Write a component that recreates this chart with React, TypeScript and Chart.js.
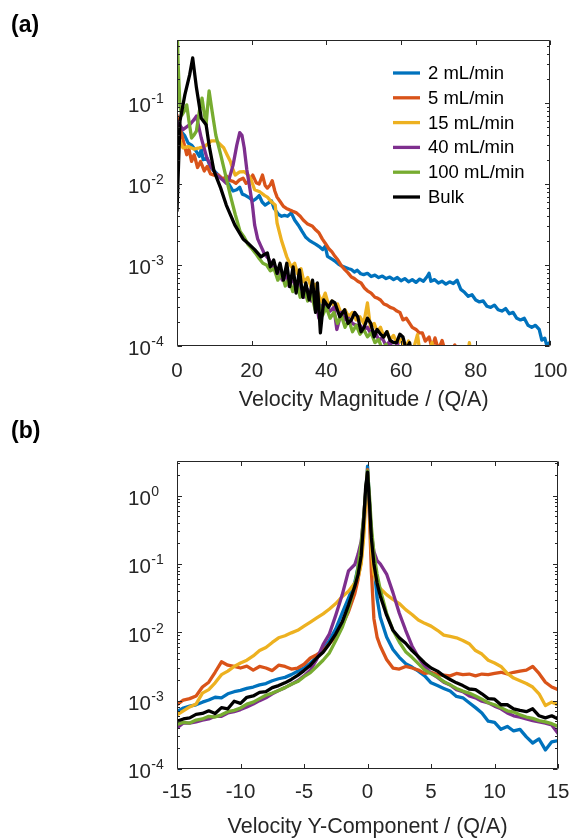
import React, { useEffect, useRef } from 'react';
import { Chart, registerables } from 'chart.js';

Chart.register(...registerables);

const FONT = "'Liberation Sans', Arial, Helvetica, sans-serif";
const AXIS_COLOR = '#262626';

// ---------- shared series info ----------
const seriesLabels = ['2 mL/min', '5 mL/min', '15 mL/min', '40 mL/min', '100 mL/min', 'Bulk'];
const seriesColors = ['#0072BD', '#D95319', '#EDB120', '#7E2F8E', '#77AC30', '#000000'];

// ---------- panel (a): velocity magnitude ----------
const aXTicks = [0, 20, 40, 60, 80, 100];
const aYTicks = [1e-4, 1e-3, 1e-2, 1e-1];
const aYTickExps = ['-4', '-3', '-2', '-1'];
const aXTitle = 'Velocity Magnitude / (Q/A)';

const aBlueX = [0, 1, 2, 3, 4, 5, 6, 6.5, 7, 8, 9, 10, 11, 12, 13, 14, 15, 16, 16.8, 17.5, 18.4, 19.3, 20.3, 21.2, 22, 22.8, 23.6, 24.4, 25.3, 26, 27.2, 28, 28.8, 29.6, 30.6, 31.5, 32.5, 33.5, 34.5, 35.5, 36.3, 37.2, 38, 39, 39.7, 40.3, 41.5, 42.5, 43.3, 44, 45, 46, 46.7, 47.5, 48.3, 49.2, 50, 51, 52, 53, 54, 55, 56, 57, 58, 59, 60, 61, 62, 63, 64, 65, 66, 67, 67.5, 68, 69, 70, 71, 72, 73, 74, 75, 76, 77, 78, 79, 80, 81, 82, 83, 84, 85, 86, 87, 88, 89, 90, 91, 92, 93, 94, 95, 96, 97, 97.7, 98.5, 99, 100];
const aBlueY = [0.054, 0.045, 0.04, 0.032, 0.03, 0.026, 0.022, 0.027, 0.02, 0.021, 0.016, 0.0145, 0.013, 0.0117, 0.011, 0.0098, 0.0082, 0.0085, 0.0091, 0.0075, 0.0072, 0.0068, 0.0062, 0.0066, 0.0072, 0.006, 0.0055, 0.0058, 0.0062, 0.005, 0.0042, 0.004, 0.0041, 0.004, 0.0044, 0.0036, 0.0031, 0.0026, 0.0022, 0.002, 0.0019, 0.0018, 0.0017, 0.00155, 0.0017, 0.00128, 0.00118, 0.0011, 0.00102, 0.00098, 0.00094, 0.0009, 0.00088, 0.00082, 0.00086, 0.00078, 0.00076, 0.00079, 0.00072, 0.00075, 0.0007, 0.00073, 0.00068, 0.00071, 0.00066, 0.0007, 0.00064, 0.00068, 0.00062, 0.00066, 0.00061, 0.00067, 0.00063, 0.00072, 0.00079, 0.00063, 0.00066, 0.0006, 0.00063, 0.00058, 0.00062, 0.00059, 0.00065, 0.0005, 0.00046, 0.00041, 0.00043, 0.00037, 0.00035, 0.00036, 0.00031, 0.0003, 0.00032, 0.00028, 0.00027, 0.00029, 0.00025, 0.00026, 0.00022, 0.00021, 0.00022, 0.00018, 0.00017, 0.00018, 0.00016, 0.000118, 0.000125, 0.000103, 0.000112];

const aOrangeX = [0, 0.6, 1.3, 2, 2.6, 3.2, 3.9, 4.6, 5.5, 6.3, 7.3, 8.1, 9, 9.9, 11, 12, 12.5, 13.3, 14.3, 15, 15.8, 16.7, 17.7, 18.5, 19.3, 20.3, 21.2, 22, 22.9, 23.6, 24.2, 25, 25.5, 26.2, 26.8, 27.7, 28.5, 29.3, 30.1, 31, 32, 33, 33.8, 35, 36.3, 37.2, 38, 38.9, 39.7, 40.6, 41.5, 42.3, 43.1, 44, 45, 45.8, 46.7, 47.5, 48.4, 49.3, 50.2, 51, 52, 53, 53.7, 54.5, 55.4, 56.2, 57.1, 58, 58.9, 59.7, 60.5, 61.4, 62.3, 63, 64, 64.9, 65.7, 66.5, 67.5, 68.3, 69.1, 70, 71, 72, 73, 74.4, 75.2];
const aOrangeY = [0.071, 0.055, 0.04, 0.03, 0.023, 0.027, 0.019, 0.023, 0.016, 0.019, 0.0145, 0.0165, 0.0133, 0.0129, 0.013, 0.0118, 0.0117, 0.0125, 0.011, 0.0108, 0.0102, 0.0112, 0.0118, 0.0102, 0.0108, 0.0129, 0.0104, 0.01, 0.0129, 0.0096, 0.0089, 0.0098, 0.011, 0.0082, 0.0069, 0.006, 0.0053, 0.005, 0.0048, 0.0046, 0.0044, 0.004, 0.0036, 0.0032, 0.003, 0.0027, 0.0025, 0.0021, 0.00186, 0.0016, 0.00145, 0.00128, 0.00115, 0.00098, 0.00087, 0.0008, 0.00071, 0.00068, 0.00063, 0.0006, 0.00052, 0.00048, 0.00045, 0.0004, 0.00039, 0.00037, 0.00033, 0.00032, 0.0003, 0.00029, 0.00027, 0.00026, 0.00021, 0.00022, 0.00019, 0.00017, 0.00016, 0.000145, 0.000145, 0.000115, 0.000129, 0.000095, 0.000126, 0.00009, 0.000117, 0.00008, 0.00008, 0.000103, 0.00007];

const aYellowX = [0, 0.5, 1.6, 3, 4.5, 6, 7.3, 8.2, 9.1, 10.6, 11.5, 12.5, 13.4, 14.3, 15, 15.6, 16.2, 16.8, 18, 19, 19.7, 20.8, 22, 22.5, 23.5, 24.2, 25.5, 26.3, 26.8, 28, 29.4, 30.6, 31.5, 32.3, 33.2, 34, 35, 36, 37, 38, 38.8, 39.7, 40.6, 41.5, 42.3, 43, 44, 45, 46, 47, 48, 49, 50, 51, 51.8, 52.8, 53.6, 54.5, 55.4, 56.3, 57, 58, 59, 60, 61, 62, 63, 64.4, 65.3, 67, 68.3, 69.2, 77.5, 78.3, 79];
const aYellowY = [0.047, 0.037, 0.028, 0.029, 0.027, 0.028, 0.029, 0.031, 0.034, 0.034, 0.031, 0.028, 0.023, 0.019, 0.015, 0.0129, 0.0135, 0.0141, 0.0142, 0.013, 0.0118, 0.0085, 0.0081, 0.0078, 0.0072, 0.0069, 0.0059, 0.0055, 0.0033, 0.002, 0.00126, 0.00095, 0.00105, 0.00078, 0.0009, 0.00062, 0.0007, 0.00052, 0.00058, 0.00042, 0.00035, 0.00045, 0.00032, 0.00036, 0.00029, 0.00033, 0.00025, 0.00028, 0.00023, 0.00026, 0.00021, 0.00023, 0.00019, 0.00034, 0.00017, 0.00019, 0.00015, 0.00017, 0.00013, 0.00015, 0.00012, 0.000135, 0.000105, 0.00012, 0.00009, 0.000115, 0.00008, 0.000138, 0.00007, 0.00007, 0.00011, 0.00006, 0.00006, 0.00011, 0.00006];

const aPurpleX = [0, 1.6, 3.4, 4.5, 5.2, 6.5, 8, 9.3, 10.6, 12, 13.2, 14, 15, 16, 16.8, 17.4, 18, 18.7, 19.5, 20.2, 20.8, 21.6, 22.5, 23.5, 24.5, 25.5, 26.5, 27.3, 28.2, 29, 30, 31, 32, 33, 34, 35, 36, 37, 38, 39, 40, 41, 42, 42.8, 44, 45, 46, 47, 48, 49, 50, 51, 52, 53, 54, 55, 56, 57, 58, 59, 60];
const aPurpleY = [0.06, 0.047, 0.054, 0.062, 0.069, 0.037, 0.021, 0.016, 0.0129, 0.0115, 0.0102, 0.0118, 0.017, 0.03, 0.043, 0.04, 0.028, 0.015, 0.0089, 0.0055, 0.0031, 0.0021, 0.0017, 0.00135, 0.0012, 0.00098, 0.00092, 0.0008, 0.00065, 0.00078, 0.00055, 0.0007, 0.00047, 0.00058, 0.0004, 0.0005, 0.00036, 0.0004, 0.00022, 0.00032, 0.0003, 0.00027, 0.0003, 0.00016, 0.00026, 0.00021, 0.00022, 0.00019, 0.00018, 0.00018, 0.00016, 0.00017, 0.00014, 0.00015, 0.00012, 0.000125, 0.0001, 0.000115, 0.00008, 0.00011, 0.00007];

const aGreenX = [0, 0.3, 0.8, 1.3, 2, 2.6, 3.2, 3.9, 4.5, 5.2, 6, 6.7, 7.3, 7.8, 8.2, 8.6, 9.4, 10.4, 11.7, 13, 14.3, 15.6, 16.9, 18, 19, 20, 21, 22, 23, 24, 25, 26, 27, 28, 29, 30, 31, 32, 33, 34, 35, 36, 37, 38, 39, 40, 41, 42, 43, 44, 45, 46, 47, 48, 49, 50, 51, 52, 53, 54, 55, 56, 57];
const aGreenY = [1.0, 0.3, 0.09, 0.071, 0.08, 0.095, 0.06, 0.037, 0.04, 0.045, 0.08, 0.115, 0.075, 0.054, 0.09, 0.141, 0.079, 0.04, 0.023, 0.0129, 0.0072, 0.0042, 0.0026, 0.0022, 0.0018, 0.0016, 0.0014, 0.0012, 0.00105, 0.001, 0.00085, 0.0009, 0.00065, 0.0008, 0.00055, 0.00068, 0.00047, 0.00062, 0.0004, 0.00052, 0.00036, 0.00044, 0.00028, 0.00034, 0.00024, 0.0003, 0.00022, 0.00026, 0.00019, 0.00024, 0.00017, 0.00021, 0.00015, 0.00018, 0.00014, 0.00016, 0.00013, 0.000145, 0.00011, 0.00012, 0.00009, 0.000105, 0.00007];

const aBlackX = [0, 0.8, 2.1, 3.4, 4.2, 5.2, 6.5, 7.8, 8.6, 9.9, 11.7, 13.2, 15.5, 17.7, 19, 20.8, 22.5, 23.4, 24.2, 25, 25.9, 26.8, 27.6, 28.5, 29.4, 30.2, 31.1, 31.9, 32.8, 33.7, 34.5, 35.4, 36.3, 37.1, 37.6, 38.4, 39.3, 40.6, 41.5, 42.3, 43.6, 44.9, 45.8, 46.7, 47.6, 48.4, 49.3, 50.1, 51, 51.9, 52.8, 53.6, 54.5, 55.3, 56.2, 57.1, 58, 58.8, 59.7, 60.5, 61.4, 62.3, 63];
const aBlackY = [0.0047, 0.06, 0.126, 0.224, 0.36, 0.155, 0.065, 0.054, 0.03, 0.0145, 0.0089, 0.0055, 0.0031, 0.0021, 0.00186, 0.00155, 0.00126, 0.00135, 0.00141, 0.00095, 0.00115, 0.00079, 0.00105, 0.00065, 0.00105, 0.00054, 0.00095, 0.00045, 0.00087, 0.0004, 0.0006, 0.00037, 0.00065, 0.00026, 0.0006, 0.000145, 0.00037, 0.0003, 0.00036, 0.00034, 0.00023, 0.00028, 0.00019, 0.00021, 0.00026, 0.00023, 0.00015, 0.00017, 0.00022, 0.00019, 0.00013, 0.00016, 0.00014, 0.000129, 0.00015, 0.000117, 0.00011, 0.00011, 0.00014, 0.000129, 0.00009, 0.00011, 0.00007];

// ---------- panel (b): velocity Y-component ----------
const bXTicks = [-15, -10, -5, 0, 5, 10, 15];
const bYTicks = [1e-4, 1e-3, 1e-2, 1e-1, 1];
const bYTickExps = ['-4', '-3', '-2', '-1', '0'];
const bXTitle = 'Velocity Y-Component / (Q/A)';

const bX = [-15, -14.5, -14, -13.5, -13, -12.5, -12, -11.5, -11, -10.5, -10, -9.5, -9, -8.5, -8, -7.5, -7, -6.5, -6, -5.5, -5, -4.5, -4, -3.5, -3, -2.5, -2, -1.5, -1, -0.75, -0.5, -0.3, -0.15, 0, 0.15, 0.3, 0.5, 0.75, 1, 1.5, 2, 2.5, 3, 3.5, 4, 4.5, 5, 5.5, 6, 6.5, 7, 7.5, 8, 8.5, 9, 9.5, 10, 10.5, 11, 11.5, 12, 12.5, 13, 13.5, 14, 14.5, 15];

const bBlue = [6.9e-4, 7.8e-4, 8.3e-4, 8.7e-4, 9.5e-4, 1.02e-3, 1.12e-3, 1.1e-3, 1.26e-3, 1.35e-3, 1.41e-3, 1.51e-3, 1.58e-3, 1.7e-3, 1.78e-3, 1.95e-3, 2.09e-3, 2.19e-3, 2.4e-3, 2.69e-3, 3.0e-3, 3.55e-3, 4.37e-3, 5.6e-3, 7.6e-3, 0.0112, 0.019, 0.0316, 0.054, 0.089, 0.178, 0.4, 1.0, 2.7, 0.79, 0.25, 0.1, 0.0316, 0.0166, 8.5e-3, 5.6e-3, 4.3e-3, 3.47e-3, 3.1e-3, 2.7e-3, 2.3e-3, 1.82e-3, 1.66e-3, 1.51e-3, 1.38e-3, 1.15e-3, 1.1e-3, 9.3e-4, 7.9e-4, 6.6e-4, 5.0e-4, 4.8e-4, 3.8e-4, 4.2e-4, 3.6e-4, 3.8e-4, 2.95e-4, 2.4e-4, 2.75e-4, 1.9e-4, 2.5e-4, 2.6e-4];
const bOrange = [8.7e-4, 1.02e-3, 1.07e-3, 1.17e-3, 1.58e-3, 1.86e-3, 2.6e-3, 3.7e-3, 3.3e-3, 3.16e-3, 3.0e-3, 3.2e-3, 2.8e-3, 3.16e-3, 3.0e-3, 2.75e-3, 3.3e-3, 3.16e-3, 2.9e-3, 3.0e-3, 3.4e-3, 4.2e-3, 4.7e-3, 5.4e-3, 6.8e-3, 8.7e-3, 0.0126, 0.02, 0.037, 0.059, 0.112, 0.316, 1.0, 2.4, 0.5, 0.079, 0.0158, 8.5e-3, 6.3e-3, 4.0e-3, 3.0e-3, 2.9e-3, 3.16e-3, 3.0e-3, 2.8e-3, 2.5e-3, 2.6e-3, 2.4e-3, 2.35e-3, 2.3e-3, 2.5e-3, 2.4e-3, 2.45e-3, 2.3e-3, 2.45e-3, 2.4e-3, 2.5e-3, 2.6e-3, 2.45e-3, 2.6e-3, 2.7e-3, 2.8e-3, 3.16e-3, 2.5e-3, 1.86e-3, 1.58e-3, 1.45e-3];
const bYellow = [6.2e-4, 7.1e-4, 8.1e-4, 8.9e-4, 1.29e-3, 1.45e-3, 1.82e-3, 2.4e-3, 2.7e-3, 3.16e-3, 3.55e-3, 3.9e-3, 4.5e-3, 5.4e-3, 6.0e-3, 7.1e-3, 8.3e-3, 8.9e-3, 9.8e-3, 0.0107, 0.0123, 0.0141, 0.0162, 0.0186, 0.0219, 0.0263, 0.0331, 0.0398, 0.0525, 0.063, 0.1, 0.25, 0.79, 1.8, 0.63, 0.158, 0.071, 0.0525, 0.0437, 0.0355, 0.0302, 0.0263, 0.0214, 0.0182, 0.0151, 0.0135, 0.0123, 0.0107, 9.1e-3, 8.7e-3, 8.3e-3, 7.6e-3, 6.8e-3, 5.4e-3, 4.8e-3, 3.9e-3, 3.55e-3, 3.16e-3, 2.5e-3, 2.14e-3, 1.95e-3, 1.78e-3, 1.58e-3, 1.26e-3, 8.5e-4, 9.5e-4, 8.7e-4];
const bPurple = [4.0e-4, 4.7e-4, 4.7e-4, 4.9e-4, 5.2e-4, 5.4e-4, 5.9e-4, 5.9e-4, 6.6e-4, 6.9e-4, 7.4e-4, 8.1e-4, 8.9e-4, 1.0e-3, 1.1e-3, 1.26e-3, 1.41e-3, 1.55e-3, 1.74e-3, 1.95e-3, 2.3e-3, 2.8e-3, 4.0e-3, 6.6e-3, 9.5e-3, 0.0178, 0.035, 0.079, 0.098, 0.138, 0.214, 0.5, 1.12, 2.0, 0.79, 0.28, 0.151, 0.112, 0.1, 0.071, 0.038, 0.019, 0.0107, 6.3e-3, 4.3e-3, 3.16e-3, 2.5e-3, 2.19e-3, 1.86e-3, 1.7e-3, 1.45e-3, 1.35e-3, 1.17e-3, 1.1e-3, 9.8e-4, 9.3e-4, 8.3e-4, 7.6e-4, 6.6e-4, 6.0e-4, 5.75e-4, 5.4e-4, 5.1e-4, 4.9e-4, 4.7e-4, 4.4e-4, 3.3e-4];
const bGreen = [4.5e-4, 4.8e-4, 4.7e-4, 5.2e-4, 5.4e-4, 5.9e-4, 5.75e-4, 6.2e-4, 6.9e-4, 7.2e-4, 7.8e-4, 8.9e-4, 9.5e-4, 1.07e-3, 1.2e-3, 1.29e-3, 1.41e-3, 1.55e-3, 1.74e-3, 1.9e-3, 2.24e-3, 2.57e-3, 3.16e-3, 3.9e-3, 5.0e-3, 7.6e-3, 0.0117, 0.0214, 0.05, 0.089, 0.2, 0.5, 1.12, 2.3, 1.0, 0.355, 0.141, 0.071, 0.042, 0.019, 0.0107, 7.2e-3, 5.2e-3, 4.3e-3, 3.47e-3, 2.8e-3, 2.5e-3, 2.24e-3, 1.9e-3, 1.7e-3, 1.51e-3, 1.38e-3, 1.29e-3, 1.17e-3, 1.05e-3, 9.3e-4, 8.7e-4, 7.9e-4, 7.1e-4, 6.8e-4, 6.2e-4, 5.75e-4, 5.5e-4, 5.1e-4, 4.9e-4, 4.6e-4, 4.2e-4];
const bBlack = [5.0e-4, 5.4e-4, 5.6e-4, 6.3e-4, 6.5e-4, 7.1e-4, 6.5e-4, 7.9e-4, 7.6e-4, 9.8e-4, 9.1e-4, 1.12e-3, 1.17e-3, 1.32e-3, 1.35e-3, 1.55e-3, 1.66e-3, 1.82e-3, 2.04e-3, 2.34e-3, 2.75e-3, 3.3e-3, 4.2e-3, 5.1e-3, 6.8e-3, 9.5e-3, 0.0141, 0.025, 0.047, 0.069, 0.132, 0.43, 1.32, 2.2, 0.79, 0.24, 0.1, 0.0525, 0.034, 0.0178, 0.0107, 8.3e-3, 6.9e-3, 5.4e-3, 4.4e-3, 3.55e-3, 3.0e-3, 2.7e-3, 2.3e-3, 2.04e-3, 1.82e-3, 1.66e-3, 1.48e-3, 1.45e-3, 1.26e-3, 1.07e-3, 1.05e-3, 8.7e-4, 8.7e-4, 7.6e-4, 7.2e-4, 6.9e-4, 7.6e-4, 6.0e-4, 5.6e-4, 6.0e-4, 5.4e-4];

// ---------- helpers ----------
function pts(xs: number[], ys: number[]) {
  const n = Math.min(xs.length, ys.length);
  const out: { x: number; y: number }[] = [];
  for (let i = 0; i < n; i++) out.push({ x: xs[i], y: ys[i] });
  return out;
}

function makeDatasets(series: { x: number[]; y: number[] }[]) {
  return series.map((s, i) => ({
    label: seriesLabels[i],
    data: pts(s.x, s.y),
    borderColor: seriesColors[i],
    backgroundColor: seriesColors[i],
    borderWidth: 3.3,
    pointRadius: 0,
    tension: 0,
    fill: false,
    borderJoinStyle: 'round' as const,
    borderCapStyle: 'round' as const,
    order: series.length - 1 - i,
  }));
}

// box + inward ticks (MATLAB style)
const framePlugin = {
  id: 'frame',
  afterDatasetsDraw(chart: any, _args: any, opts: any) {
    const { ctx, chartArea } = chart;
    const { left, right, top, bottom } = chartArea;
    const xs = chart.scales.x;
    const ys = chart.scales.y;
    const L = Math.round(left) + 0.5;
    const R = Math.round(right) - 0.5;
    const T = Math.round(top) + 0.5;
    const B = Math.round(bottom) - 0.5;
    ctx.save();
    ctx.strokeStyle = AXIS_COLOR;
    ctx.lineWidth = 1;
    ctx.beginPath();
    ctx.rect(L, T, R - L, B - T);
    ctx.stroke();
    const major = 4.5;
    const minor = 2.5;
    ctx.beginPath();
    (opts.xTicks as number[]).forEach((v) => {
      const px = Math.round(xs.getPixelForValue(v)) + 0.5;
      ctx.moveTo(px, B);
      ctx.lineTo(px, B - major);
      ctx.moveTo(px, T);
      ctx.lineTo(px, T + major);
    });
    const ymin = ys.min;
    const ymax = ys.max;
    const e0 = Math.floor(Math.log10(ymin));
    const e1 = Math.ceil(Math.log10(ymax));
    for (let e = e0; e <= e1; e++) {
      for (let m = 1; m <= 9; m++) {
        const v = m * Math.pow(10, e);
        if (v < ymin * 0.999 || v > ymax * 1.001) continue;
        const py = Math.round(ys.getPixelForValue(v)) + 0.5;
        const len = m === 1 ? major : minor;
        ctx.moveTo(L, py);
        ctx.lineTo(L + len, py);
        ctx.moveTo(R, py);
        ctx.lineTo(R - len, py);
      }
    }
    ctx.stroke();
    ctx.restore();
  },
};

// y tick labels as 10 with a raised exponent, placed by the y scale
const powerLabelPlugin = {
  id: 'powerLabels',
  afterDraw(chart: any, _args: any, opts: any) {
    const { ctx } = chart;
    const ys = chart.scales.y;
    ctx.save();
    ctx.fillStyle = AXIS_COLOR;
    ctx.textAlign = 'left';
    ctx.textBaseline = 'alphabetic';
    (opts.ticks as number[]).forEach((v, i) => {
      const py = ys.getPixelForValue(v);
      ctx.font = `20.5px ${FONT}`;
      const wb = ctx.measureText('10').width;
      ctx.fillText('10', opts.x, py + 9.3);
      ctx.font = `14px ${FONT}`;
      ctx.fillText(opts.exps[i], opts.x + wb + 0.5, py + 0.3);
    });
    ctx.restore();
  },
};

// legend drawn inside the plot area (no box), like MATLAB "legend boxoff"
const insideLegendPlugin = {
  id: 'insideLegend',
  afterDraw(chart: any, _args: any, opts: any) {
    if (!opts || !opts.show) return;
    const { ctx } = chart;
    ctx.save();
    ctx.font = `18.5px ${FONT}`;
    ctx.textBaseline = 'middle';
    ctx.textAlign = 'left';
    chart.data.datasets.forEach((ds: any, i: number) => {
      const y = opts.y0 + i * opts.dy;
      ctx.strokeStyle = ds.borderColor;
      ctx.lineWidth = 3.3;
      ctx.lineCap = 'butt';
      ctx.beginPath();
      ctx.moveTo(opts.x0, y);
      ctx.lineTo(opts.x1, y);
      ctx.stroke();
      ctx.fillStyle = '#000000';
      ctx.fillText(ds.label, opts.xt, y + 1);
    });
    ctx.restore();
  },
};

function makeConfig(p: {
  datasets: any[];
  xMin: number;
  xMax: number;
  xTicks: number[];
  yMin: number;
  yMax: number;
  yTicks: number[];
  yExps: string[];
  xTitle: string;
  padTop: number;
  xAxisH: number;
  tickPad: number;
  titlePadB: number;
  legend: any;
}) {
  return {
    type: 'line' as const,
    data: { datasets: p.datasets },
    plugins: [framePlugin, powerLabelPlugin, insideLegendPlugin],
    options: {
      animation: false,
      responsive: false,
      maintainAspectRatio: false,
      events: [],
      layout: { padding: { left: 0, top: p.padTop, right: 19, bottom: 0 } },
      plugins: {
        legend: { display: false },
        tooltip: { enabled: false },
        frame: { xTicks: p.xTicks },
        powerLabels: { ticks: p.yTicks, exps: p.yExps, x: 128 },
        insideLegend: p.legend,
      },
      scales: {
        x: {
          type: 'linear',
          min: p.xMin,
          max: p.xMax,
          afterBuildTicks: (s: any) => {
            s.ticks = p.xTicks.map((v) => ({ value: v }));
          },
          afterFit: (s: any) => {
            s.height = p.xAxisH;
          },
          grid: { display: false, drawTicks: false, tickLength: 0 },
          border: { display: false },
          ticks: {
            padding: p.tickPad,
            autoSkip: false,
            maxRotation: 0,
            color: AXIS_COLOR,
            font: { size: 20.5, family: FONT },
          },
          title: {
            display: true,
            text: p.xTitle,
            color: AXIS_COLOR,
            font: { size: 21.5, family: FONT, lineHeight: 1 },
            padding: { top: 0, bottom: p.titlePadB },
          },
        },
        y: {
          type: 'logarithmic',
          min: p.yMin,
          max: p.yMax,
          afterBuildTicks: (s: any) => {
            s.ticks = p.yTicks.map((v) => ({ value: v }));
          },
          afterFit: (s: any) => {
            s.width = 177;
          },
          grid: { display: false, drawTicks: false, tickLength: 0 },
          border: { display: false },
          ticks: { display: false },
        },
      },
    },
  };
}

function PanelChart({ config, top, height }: { config: () => any; top: number; height: number }) {
  const ref = useRef<HTMLCanvasElement | null>(null);
  useEffect(() => {
    if (!ref.current) return;
    const chart = new Chart(ref.current, config());
    return () => chart.destroy();
  }, []);
  return (
    <canvas
      ref={ref}
      width={581}
      height={height}
      style={{ position: 'absolute', left: 0, top, width: 581, height }}
    />
  );
}

export default function App() {
  const configA = () =>
    makeConfig({
      datasets: makeDatasets([
        { x: aBlueX, y: aBlueY },
        { x: aOrangeX, y: aOrangeY },
        { x: aYellowX, y: aYellowY },
        { x: aPurpleX, y: aPurpleY },
        { x: aGreenX, y: aGreenY },
        { x: aBlackX, y: aBlackY },
      ]),
      xMin: 0,
      xMax: 100,
      xTicks: aXTicks,
      yMin: 1e-4,
      yMax: 0.6,
      yTicks: aYTicks,
      yExps: aYTickExps,
      xTitle: aXTitle,
      padTop: 40,
      xAxisH: 74,
      tickPad: 13.5,
      titlePadB: 9,
      legend: { show: true, x0: 393, x1: 420, xt: 428, y0: 73, dy: 24.8 },
    });

  const configB = () =>
    makeConfig({
      datasets: makeDatasets([
        { x: bX, y: bBlue },
        { x: bX, y: bOrange },
        { x: bX, y: bYellow },
        { x: bX, y: bPurple },
        { x: bX, y: bGreen },
        { x: bX, y: bBlack },
      ]),
      xMin: -15,
      xMax: 15,
      xTicks: bXTicks,
      yMin: 1e-4,
      yMax: 3.2,
      yTicks: bYTicks,
      yExps: bYTickExps,
      xTitle: bXTitle,
      padTop: 46,
      xAxisH: 69,
      tickPad: 11.5,
      titlePadB: 0,
      legend: { show: false },
    });

  const panelLabel: React.CSSProperties = {
    position: 'absolute',
    left: 11,
    fontFamily: FONT,
    fontWeight: 'bold',
    fontSize: 23,
    lineHeight: '23px',
    color: '#000',
    margin: 0,
  };

  return (
    <div
      style={{
        position: 'fixed',
        left: 0,
        top: 0,
        width: 581,
        height: 838,
        background: '#ffffff',
        overflow: 'hidden',
      }}
    >
      <PanelChart config={configA} top={0} height={420} />
      <PanelChart config={configB} top={415} height={423} />
      <div style={{ ...panelLabel, top: 13 }}>(a)</div>
      <div style={{ ...panelLabel, top: 419 }}>(b)</div>
    </div>
  );
}
